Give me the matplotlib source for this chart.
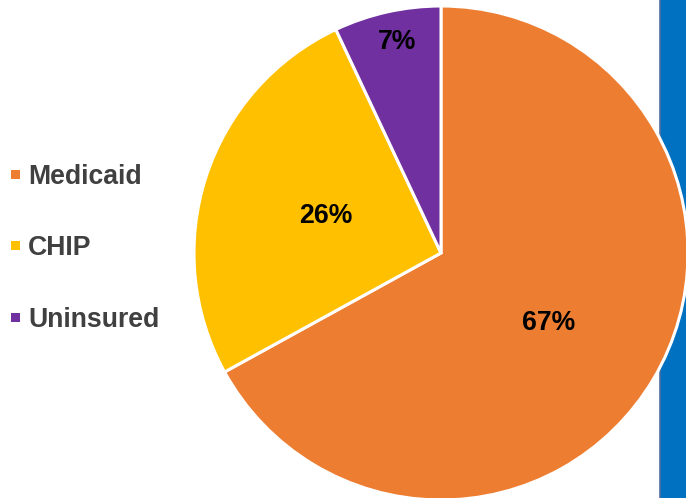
import matplotlib.pyplot as plt
from matplotlib.patches import Rectangle

categories = ["Medicaid", "CHIP", "Uninsured"]
shares = [67, 26, 7]
colors = ["#ED7D31", "#FFC000", "#7030A0"]

plt.rcParams["font.family"] = ["Liberation Sans", "DejaVu Sans"]

W, H = 686, 498
fig = plt.figure(figsize=(W / 100, H / 100), dpi=100)
ax = fig.add_axes([0, 0, 1, 1])

# blue band on the right, behind the pie
ax.add_patch(Rectangle((660, 0), 30, H, facecolor="#0070C0", edgecolor="none", zorder=0))
ax.plot([660, 660], [0, H], color="#4F6FA0", lw=1.2, zorder=0.5)

cx, cy, r = 441, H - 253, 247
wedges, _ = ax.pie(
    shares,
    colors=colors,
    startangle=90,
    counterclock=False,
    center=(cx, cy),
    radius=r,
    wedgeprops=dict(edgecolor="white", linewidth=2.2),
    frame=True,
)
for w in wedges:
    w.set_zorder(2)
ax.set_xlim(0, W)
ax.set_ylim(0, H)
ax.axis("off")

label_pos = [(549, H - 323), (326, H - 216), (397, H - 42)]
for (x, y), v in zip(label_pos, shares):
    ax.text(x, y, f"{v}%", ha="center", va="center", fontsize=19.2,
            fontweight="bold", color="black", zorder=3)

# legend on the left
legend_y = [177, 248, 320]
for name, c, y in zip(categories, colors, legend_y):
    ax.add_patch(Rectangle((11, H - y - 2), 9, 9, facecolor=c, edgecolor="none"))
    ax.text(28, H - y, name, ha="left", va="center", fontsize=19.2,
            fontweight="bold", color="#404040")

fig.savefig("out.png", dpi=100)
